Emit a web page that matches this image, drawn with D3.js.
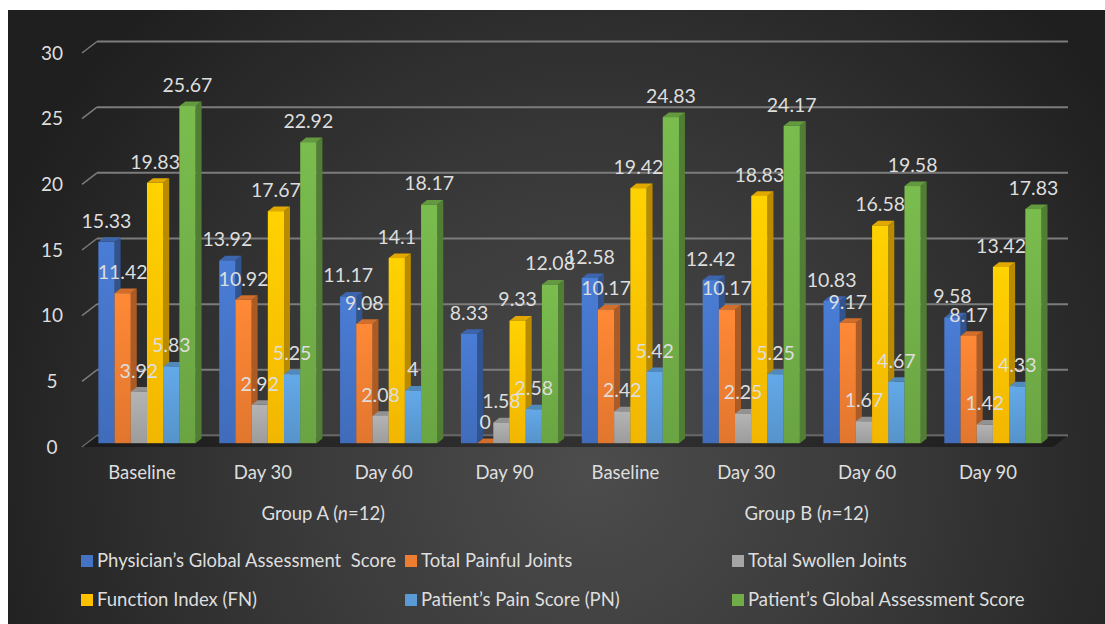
<!DOCTYPE html>
<html>
<head>
<meta charset="utf-8">
<script src="https://cdn.jsdelivr.net/npm/d3@7"></script>
<style>
  html, body { margin: 0; padding: 0; background: #ffffff; }
  svg { display: block; }
  text { font-family: Lato, "Open Sans", sans-serif; white-space: pre; }
</style>
</head>
<body>
<svg id="chart" width="1105" height="624"></svg>
<script>
// Time points (per group) and the two study groups
const timepoints = ["Baseline", "Day 30", "Day 60", "Day 90"];
const groups = ["Group A", "Group B"];

// Series names and colours
const seriesNames = [
  "Physician\u2019s Global Assessment  Score",
  "Total Painful Joints",
  "Total Swollen Joints",
  "Function Index (FN)",
  "Patient\u2019s Pain Score (PN)",
  "Patient\u2019s Global Assessment Score"
];
const seriesColors = ["#4472C4", "#ED7D31", "#A5A5A5", "#FFC000", "#5B9BD5", "#70AD47"];

// Values: Group A (Baseline, Day 30, Day 60, Day 90) then Group B
const physicianGlobal = [15.33, 13.92, 11.17, 8.33, 12.58, 12.42, 10.83, 9.58];
const painfulJoints   = [11.42, 10.92, 9.08, 0, 10.17, 10.17, 9.17, 8.17];
const swollenJoints   = [3.92, 2.92, 2.08, 1.58, 2.42, 2.25, 1.67, 1.42];
const functionIndex   = [19.83, 17.67, 14.1, 9.33, 19.42, 18.83, 16.58, 13.42];
const patientPain     = [5.83, 5.25, 4, 2.58, 5.42, 5.25, 4.67, 4.33];
const patientGlobal   = [25.67, 22.92, 18.17, 12.08, 24.83, 24.17, 19.58, 17.83];

const yTicks = [0, 5, 10, 15, 20, 25, 30];

const seriesValues = [physicianGlobal, painfulJoints, swollenJoints, functionIndex, patientPain, patientGlobal];

// Category keys: one per (group, timepoint)
const categories = [];
groups.forEach((g, gi) => timepoints.forEach((t, ti) => categories.push({ key: g + "|" + t, label: t, group: gi })));

const svg = d3.select("#chart");
const W = 1105, H = 624;
const textColor = "#dedede";

// Background panel with soft radial lighting
const defs = svg.append("defs");
const bg = defs.append("radialGradient").attr("id", "bgGrad")
  .attr("gradientUnits", "userSpaceOnUse")
  .attr("cx", 590).attr("cy", 470).attr("r", 640);
bg.append("stop").attr("offset", "0%").attr("stop-color", "#4c4c4c");
bg.append("stop").attr("offset", "45%").attr("stop-color", "#3a3a3a");
bg.append("stop").attr("offset", "100%").attr("stop-color", "#1f1f1f");

svg.append("rect").attr("x", 8).attr("y", 10).attr("width", W - 8).attr("height", H - 10)
  .attr("fill", "url(#bgGrad)");

// 3D geometry: front plane scales plus a depth vector toward the back wall
const y = d3.scaleLinear().domain([0, 30]).range([447, 53]);
const x = d3.scaleBand().domain(categories.map(c => c.key)).range([81.6, 1048.4]).paddingInner(0).paddingOuter(0);
const depth = { dx: 15, dy: -11.5 };
const frontLeft = 82, frontRight = 1053;
const barDepth0 = 0.33, barDepthT = 0.4;
const barW = 16.2;

// Back wall gridlines and side-wall diagonals
const grid = svg.append("g");
yTicks.forEach(v => {
  const yf = y(v);
  grid.append("line")
    .attr("x1", frontLeft + depth.dx).attr("y1", yf + depth.dy)
    .attr("x2", frontRight + depth.dx).attr("y2", yf + depth.dy)
    .attr("stroke", "#7c7c7c").attr("stroke-width", 2);
  grid.append("line")
    .attr("x1", frontLeft).attr("y1", yf)
    .attr("x2", frontLeft + depth.dx).attr("y2", yf + depth.dy)
    .attr("stroke", "#7c7c7c").attr("stroke-width", 1.5);
});

// Floor slab
const y0 = y(0);
svg.append("path")
  .attr("d", d3.line()([
    [frontLeft, y0], [frontRight, y0],
    [frontRight + depth.dx, y0 + depth.dy], [frontLeft + depth.dx, y0 + depth.dy]
  ]) + "Z")
  .attr("fill", "rgba(0,0,0,0.35)");

// Y axis tick labels
svg.append("g").selectAll("text").data(yTicks).join("text")
  .attr("x", 52).attr("y", d => y(d)).attr("dy", "0.35em")
  .attr("text-anchor", "middle")
  .attr("fill", textColor).attr("font-size", 19)
  .text(d => d);

// Bars
const shade = (c, k) => d3.color(c).darker(k).formatHex();
const bright = (c, k) => d3.color(c).brighter(k).formatHex();

seriesColors.forEach((c, i) => {
  const g = defs.append("linearGradient").attr("id", "front" + i)
    .attr("x1", 0).attr("y1", 0).attr("x2", 0).attr("y2", 1);
  g.append("stop").attr("offset", "0%").attr("stop-color", bright(c, 0.25));
  g.append("stop").attr("offset", "100%").attr("stop-color", shade(c, 0.15));
});

const ox = depth.dx * barDepth0, oy = depth.dy * barDepth0;
const tx = depth.dx * barDepthT, ty = depth.dy * barDepthT;

const bars = [];
categories.forEach((cat, ci) => {
  const center = x(cat.key) + x.bandwidth() / 2;
  seriesValues.forEach((vals, si) => {
    const v = vals[ci];
    const left = center - 3 * barW + si * barW + ox;
    bars.push({ v, si, left, right: left + barW, top: y(v) + oy, bottom: y(0) + oy });
  });
});

const barG = svg.append("g");
bars.forEach(b => {
  const c = seriesColors[b.si];
  // right side face
  barG.append("path")
    .attr("d", d3.line()([[b.right, b.bottom], [b.right + tx, b.bottom + ty], [b.right + tx, b.top + ty], [b.right, b.top]]) + "Z")
    .attr("fill", shade(c, 0.9));
  // top face
  barG.append("path")
    .attr("d", d3.line()([[b.left, b.top], [b.right, b.top], [b.right + tx, b.top + ty], [b.left + tx, b.top + ty]]) + "Z")
    .attr("fill", shade(c, 0.35));
  // front face
  barG.append("rect")
    .attr("x", b.left).attr("y", b.top)
    .attr("width", barW).attr("height", Math.max(0, b.bottom - b.top))
    .attr("fill", "url(#front" + b.si + ")");
});

// Data labels above each bar
svg.append("g").selectAll("text").data(bars).join("text")
  .attr("x", d => (d.left + d.right) / 2)
  .attr("y", d => d.top - 21)
  .attr("dy", "0.35em")
  .attr("text-anchor", "middle")
  .attr("fill", textColor).attr("font-size", 19.5)
  .text(d => String(d.v));

// Category labels
svg.append("g").selectAll("text").data(categories).join("text")
  .attr("x", d => x(d.key) + x.bandwidth() / 2)
  .attr("y", 473).attr("dy", "0.35em")
  .attr("text-anchor", "middle")
  .attr("fill", textColor).attr("font-size", 18.5)
  .text(d => d.label);

// Group labels
groups.forEach((g, gi) => {
  const keys = categories.filter(c => c.group === gi).map(c => c.key);
  const cx = (x(keys[0]) + x(keys[keys.length - 1]) + x.bandwidth()) / 2;
  const t = svg.append("text")
    .attr("x", cx).attr("y", 514).attr("dy", "0.35em")
    .attr("text-anchor", "middle")
    .attr("fill", textColor).attr("font-size", 18.5);
  t.append("tspan").text(g + " (");
  t.append("tspan").attr("font-style", "italic").text("n");
  t.append("tspan").text("=12)");
});

// Legend: two rows of three
const legendCols = [81, 405, 732];
const legendRows = [561, 600];
const legend = svg.append("g");
seriesNames.forEach((name, i) => {
  const col = i % 3, row = Math.floor(i / 3);
  const lx = legendCols[col], ly = legendRows[row];
  legend.append("rect")
    .attr("x", lx).attr("y", ly - 6).attr("width", 12).attr("height", 12)
    .attr("fill", seriesColors[i]);
  legend.append("text")
    .attr("x", lx + 16).attr("y", ly).attr("dy", "0.35em")
    .attr("fill", textColor).attr("font-size", 18.5)
    .text(name);
});
</script>
</body>
</html>
